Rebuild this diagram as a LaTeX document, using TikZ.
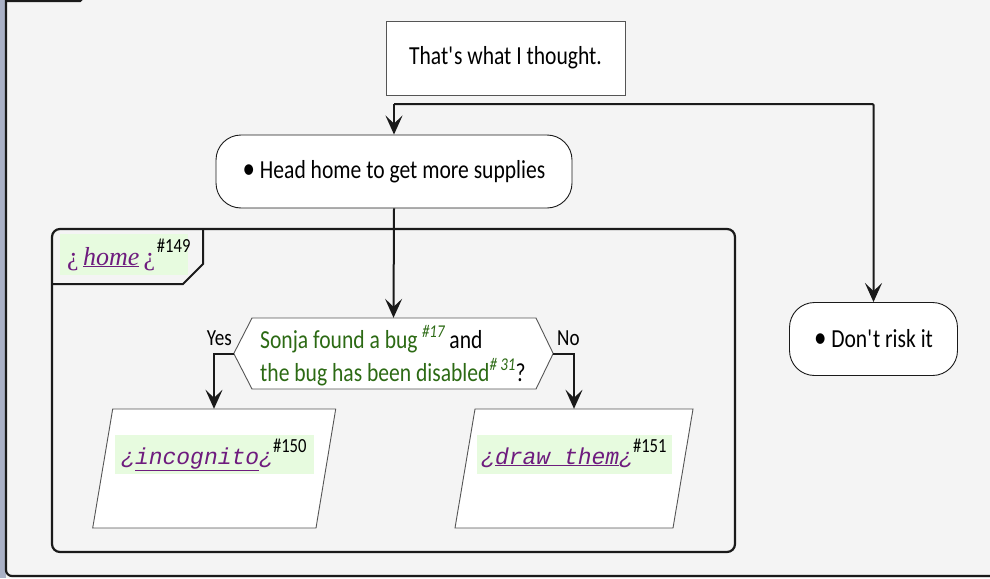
\documentclass[tikz,border=0pt]{standalone}
\usepackage{fontspec}
\setmainfont{Carlito}[FakeStretch=0.83]
\newfontfamily\monofam{Liberation Mono}
\newfontfamily\seriffam{Liberation Serif}
\usetikzlibrary{arrows.meta}
\definecolor{bgcol}{HTML}{F4F4F4}
\definecolor{stripcol}{HTML}{AAB1C6}
\definecolor{linecol}{HTML}{1A1A1A}
\definecolor{boxline}{HTML}{555555}
\definecolor{purp}{HTML}{6E1C7E}
\definecolor{grn}{HTML}{2C6A14}
\definecolor{hl}{HTML}{E7FBDF}
\tikzset{
  conn/.style={draw=linecol, line width=2pt, -{Stealth[length=19pt,width=17pt,inset=8pt]}},
  plainbox/.style={draw=boxline, fill=white, line width=0.9pt, minimum width=239pt, minimum height=74pt, inner sep=0pt},
  act/.style={draw=linecol, fill=white, line width=0.9pt, rounded corners=25pt, inner sep=0pt},
  anchorbox/.style={draw=none, inner sep=0pt},
  para/.style={draw=boxline, fill=white, line width=0.9pt},
  txt/.style={inner sep=0pt, font=\fontsize{26}{30}\selectfont},
  lbl/.style={inner sep=0pt, font=\fontsize{23}{26}\selectfont}
}
\begin{document}
\begin{tikzpicture}[x=1pt,y=-1pt]
\useasboundingbox (0,0) rectangle (990,578);
\fill[stripcol] (0,0) rectangle (6,578);
\fill[bgcol] (6,0) rectangle (990,578);
% outer frame (cropped)
\draw[line width=2.2pt, linecol, rounded corners=6pt] (6,-8) -- (6,576) -- (1000,576);
\draw[line width=2.2pt, linecol] (6,1) -- (80,1) -- (88,-7);

% note box
\node[plainbox, txt] (thought) at (505.5,58) {That\textquotesingle s what I thought.};

% activity: head home
\node[act, minimum width=356pt, minimum height=73pt, txt] (head) at (394,171.5) {{\fontsize{30}{30}\selectfont\textbullet}\ Head home to get more supplies};

% group frame
\draw[line width=2.2pt, linecol, rounded corners=8pt] (52,229) rectangle (735,552);
\draw[line width=2pt, linecol] (52,284) -- (183,284) -- (203,264) -- (203,229);
\fill[hl] (60,234) rectangle (188,275);
\node[inner sep=0pt, anchor=base west] (hometab) at (67,265)
  {{\color{purp}\fontsize{26}{28}\seriffam ¿\,\underline{\itshape home}\,¿}\,\raisebox{13pt}{\fontsize{20}{22}\selectfont\#149}};

% decision hexagon
\node[anchorbox, minimum width=319pt, minimum height=71pt] (dec) at (393.5,353.5) {};
\draw[para] (dec.west) -- (252,318) -- (536,318) -- (dec.east) -- (536,389) -- (252,389) -- cycle;
\node[txt, anchor=base west] (decl1) at (260,348)
  {{\color{grn}Sonja found a bug\,\raisebox{11pt}{\fontsize{18}{20}\selectfont\itshape\#17}} and};
\node[txt, anchor=base west] (decl2) at (260,381)
  {{\color{grn}the bug has been disabled\raisebox{11pt}{\fontsize{18}{20}\selectfont\itshape\# 31}}?};
\node[lbl, anchor=base east] (yes) at (232,345) {Yes};
\node[lbl, anchor=base west] (no) at (557,345) {No};

% parallelogram incognito
\draw[para] (112.7,409) -- (335.7,409) -- (316,528) -- (92.7,528) -- cycle;
\node[anchorbox, minimum width=200pt, minimum height=119pt] (inc) at (214,468.5) {};
\fill[hl] (115,435) rectangle (314,474);
\node[inner sep=0pt, anchor=base west] (inctxt) at (121,464)
  {{\color{purp}\fontsize{23}{28}\monofam\itshape ¿\underline{incognito}¿}\raisebox{12pt}{\fontsize{20}{22}\selectfont\#150}};

% parallelogram draw them
\draw[para] (475,409) -- (693,409) -- (673,528) -- (455,528) -- cycle;
\node[anchorbox, minimum width=200pt, minimum height=119pt] (drw) at (574,468.5) {};
\fill[hl] (477,435) rectangle (672,474);
\node[inner sep=0pt, anchor=base west] (drwtxt) at (481,464)
  {{\color{purp}\fontsize{23}{28}\monofam\itshape ¿\underline{draw\ them}¿}\raisebox{12pt}{\fontsize{20}{22}\selectfont\#151}};

% activity: don't risk it
\node[act, minimum width=168pt, minimum height=73pt, txt] (dont) at (873.5,339) {{\fontsize{30}{30}\selectfont\textbullet}\ Don\textquotesingle t risk it};

% connectors
\coordinate (split) at (394,104);
\draw[conn] (split) -- (head.north);
\draw[conn, rounded corners=1pt] (split) -| (dont.north);
\draw[conn] (head.south) -- (dec.north);
\draw[conn] (dec.west) -| (inc.north);
\draw[conn] (dec.east) -| (drw.north);
\end{tikzpicture}
\end{document}
